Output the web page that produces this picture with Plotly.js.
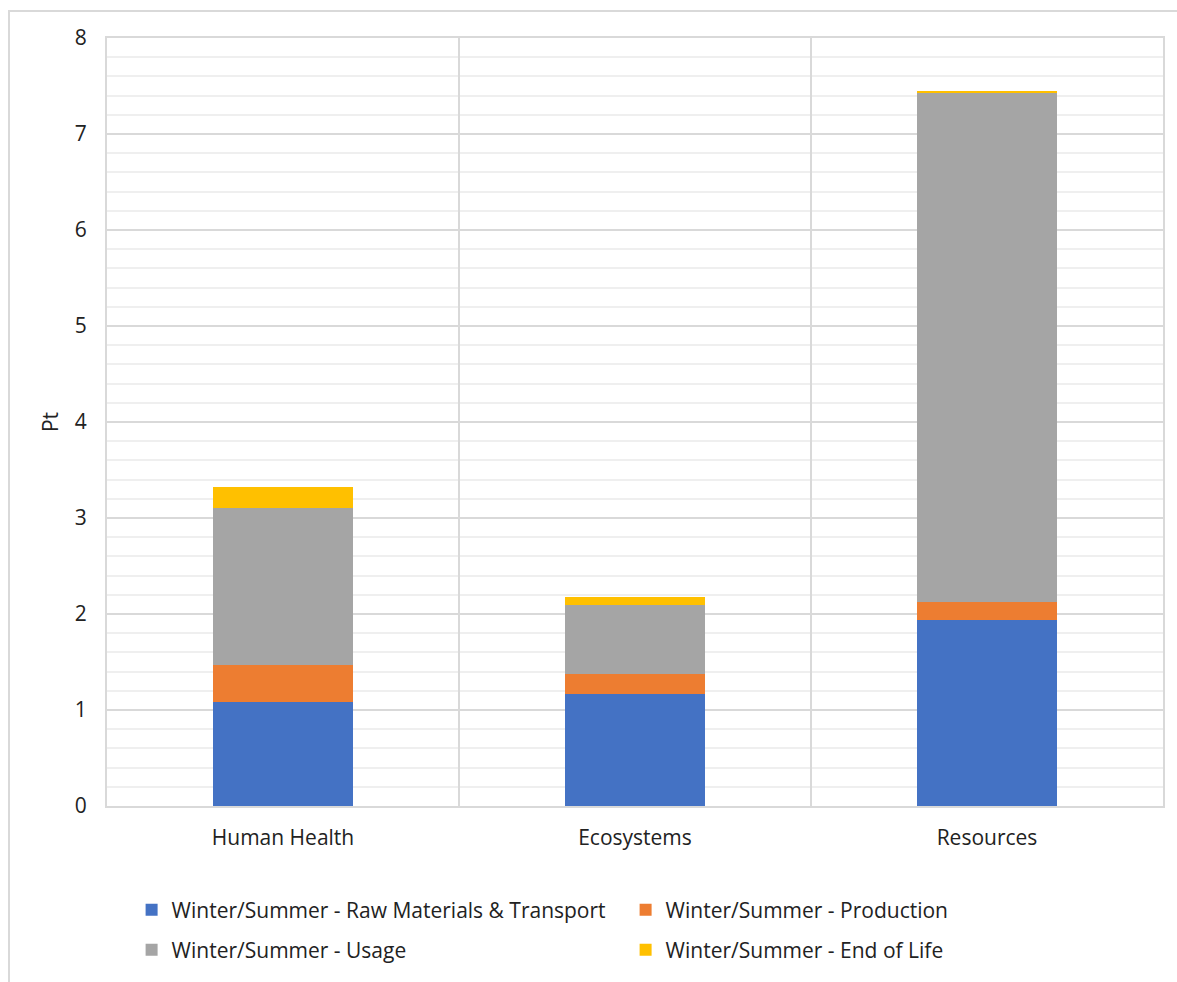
<!DOCTYPE html>
<html>
<head>
<meta charset="utf-8">
<script src="https://cdn.plot.ly/plotly-3.0.1.min.js"></script>
<style>
html,body{margin:0;padding:0;background:#fff;}
#frame{position:absolute;left:8px;top:10px;width:1300px;height:1100px;border-left:2px solid #d9d9d9;border-top:2px solid #d9d9d9;pointer-events:none;z-index:5;}
#chart{position:absolute;left:0;top:0;width:1177px;height:982px;}
</style>
</head>
<body>
<div id="chart"></div>
<div id="frame"></div>
<script>
const categories = ["Human Health", "Ecosystems", "Resources"];
const rawMaterials = [1.08, 1.17, 1.94];
const production = [0.39, 0.21, 0.19];
const usage = [1.63, 0.71, 5.30];
const endOfLife = [0.22, 0.09, 0.02];
const seriesNames = [
  "Winter/Summer - Raw Materials & Transport",
  "Winter/Summer - Production",
  "Winter/Summer - Usage",
  "Winter/Summer - End of Life"
];
const colors = ["#4472C4", "#ED7D31", "#A5A5A5", "#FFC000"];
const seriesValues = [rawMaterials, production, usage, endOfLife];
const legendRow = ["legend", "legend", "legend2", "legend2"];

const font = "Open Sans, Noto Sans, sans-serif";
const fs = 21;
const traces = seriesValues.map((vals, i) => ({
  type: "bar",
  x: categories,
  y: vals,
  name: seriesNames[i],
  legend: legendRow[i],
  marker: {color: colors[i], line: {width: 0}},
  hoverinfo: "x+y+name"
}));

const legendBase = {
  orientation: "h",
  x: 0.0233,
  xanchor: "left",
  yanchor: "middle",
  entrywidth: 449,
  entrywidthmode: "pixels",
  traceorder: "normal",
  font: {family: font, size: fs, color: "#222"},
  bgcolor: "rgba(0,0,0,0)"
};

const layout = {
  width: 1177,
  height: 982,
  barmode: "stack",
  bargap: 0.6,
  margin: {l: 107, r: 14, t: 38, b: 176},
  paper_bgcolor: "#ffffff",
  plot_bgcolor: "#ffffff",
  font: {family: font, color: "#222", size: fs},
  showlegend: true,
  legend: Object.assign({}, legendBase, {y: -0.1354}),
  legend2: Object.assign({}, legendBase, {y: -0.1875}),
  xaxis: {
    type: "category",
    tickson: "boundaries",
    showgrid: true,
    gridcolor: "#d9d9d9",
    gridwidth: 2,
    showline: true,
    mirror: true,
    linecolor: "#d9d9d9",
    linewidth: 2,
    ticks: "",
    ticklen: 0,
    ticklabelstandoff: 12,
    tickfont: {family: font, size: fs, color: "#222"},
    zeroline: false,
    automargin: false
  },
  yaxis: {
    range: [0, 8],
    dtick: 1,
    tick0: 0,
    showgrid: true,
    gridcolor: "#d9d9d9",
    gridwidth: 2,
    showline: true,
    mirror: true,
    linecolor: "#d9d9d9",
    linewidth: 2,
    ticks: "",
    ticklabelstandoff: 14,
    tickfont: {family: font, size: fs, color: "#222"},
    zeroline: false,
    automargin: false,
    minor: {dtick: 0.2, showgrid: true, gridcolor: "#efefef", gridwidth: 2, ticks: ""},
    title: {text: "Pt", font: {family: font, size: fs, color: "#222"}, standoff: 10}
  }
};

Plotly.newPlot("chart", traces, layout, {displayModeBar: false, staticPlot: true});
</script>
</body>
</html>
